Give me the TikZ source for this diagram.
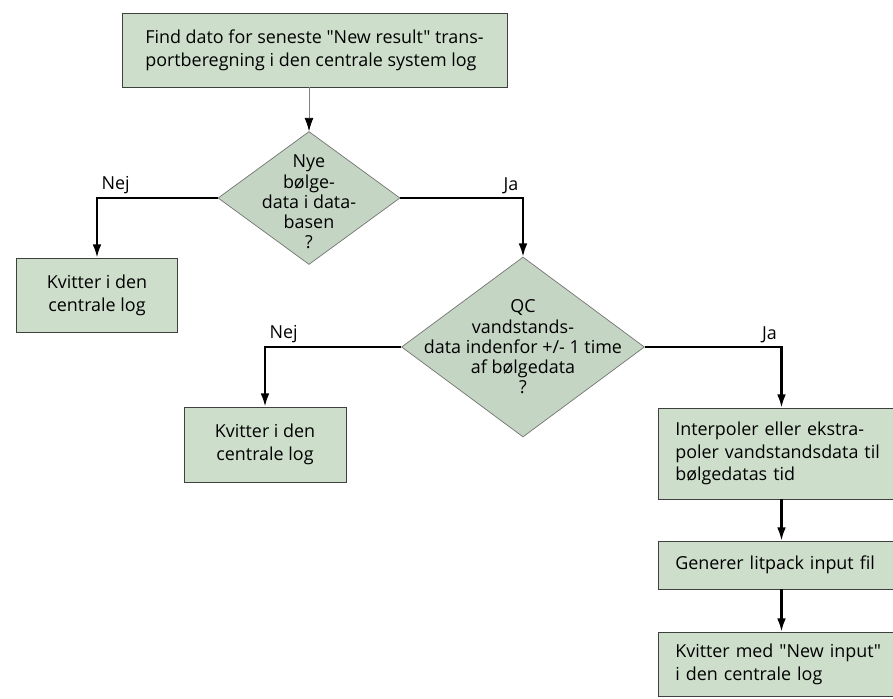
\documentclass[tikz,border=0pt]{standalone}
\usepackage{fontspec}
\setmainfont{Open Sans}[Ligatures = TeXOff]
\usetikzlibrary{arrows.meta}
\usetikzlibrary{positioning}
\usetikzlibrary{shapes.geometric}
\definecolor{boxgreen}{RGB}{205,223,203}
\definecolor{diagreen}{RGB}{196,214,195}
\tikzset{proc/.style = {draw = black!75, fill = boxgreen, line width = 0.5pt, inner sep = 0, font = \fontsize{10.2}{13}\selectfont}}
\tikzset{decision/.style = {diamond, draw = black!55, fill = diagreen, inner sep = 0, line width = 0.4pt}}
\tikzset{dtext/.style = {align = center, font = \fontsize{10.2}{11.5}\selectfont}}
\tikzset{flow/.style = {line width = 1.2pt, -{Latex[length = 7.5pt, width = 5pt]}}}
\tikzset{answer/.style = {inner sep = 2pt, font = \fontsize{10.2}{11.5}\selectfont}}

\begin{document}
\begin{tikzpicture}[x = 0.02cm, y = -0.02cm]
      \useasboundingbox (0, 0) rectangle (893, 699);

      \node [proc, minimum width = 7.7cm, minimum height = 1.48cm, align = left] at (314.5, 50) (find) {Find dato for seneste "New result" trans-\\portberegning i den centrale system log};

      \node [decision, minimum width = 3.64cm, minimum height = 2.66cm] at (309, 198) (nye) {};
      \node [dtext] at (309, 202) (nyetext) {Nye\\bølge-\\data i data-\\basen\\?};

      \node [proc, minimum width = 3.22cm, minimum height = 1.48cm, align = center] at (97, 295) (kvit1) {Kvitter i den\\centrale log};

      \node [decision, minimum width = 4.86cm, minimum height = 3.6cm] at (523, 347) (qc) {};
      \node [dtext] at (523, 347) (qctext) {QC\\vandstands-\\data indenfor +/- 1 time\\af bølgedata\\?};

      \node [proc, minimum width = 3.24cm, minimum height = 1.5cm, align = center] at (265, 444.5) (kvit2) {Kvitter i den\\centrale log};

      \node [proc, minimum width = 4.94cm, minimum height = 1.82cm, text width = 4.25cm, align = left] at (781.5, 453.5) (interp) {Interpoler eller ekstra-\\poler vandstandsdata til\\bølgedatas tid};
      \node [proc, minimum width = 4.94cm, minimum height = 0.96cm, text width = 4.25cm, align = left] at (781.5, 565) (litpack) {Generer litpack input fil};
      \node [proc, minimum width = 4.94cm, minimum height = 1.28cm, text width = 4.25cm, align = left] at (781.5, 664) (newinput) {Kvitter med "New input"\\i den centrale log};

      \draw [draw = black!50, line width = 0.4pt, -{Latex[length = 7.5pt, width = 5pt, color = black]}] (nye.north |- find.south) -- (nye.north);

      \draw [flow] (nye.west) -| node [answer, pos = 0.5, above right] (nej1) {Nej} (kvit1.north);
      \draw [flow] (nye.east) -| node [answer, pos = 0.5, above left] (ja1) {Ja} (qc.north);
      \draw [flow] (qc.west) -| node [answer, pos = 0.5, above right] (nej2) {Nej} (kvit2.north);
      \draw [flow] (qc.east) -| node [answer, pos = 0.5, above left] (ja2) {Ja} (interp.north);

      \draw [flow] (interp) -- (litpack);
      \draw [flow] (litpack) -- (newinput);

      % the right column runs off the page edge, as in the scan
    \end{tikzpicture}
\end{document}
